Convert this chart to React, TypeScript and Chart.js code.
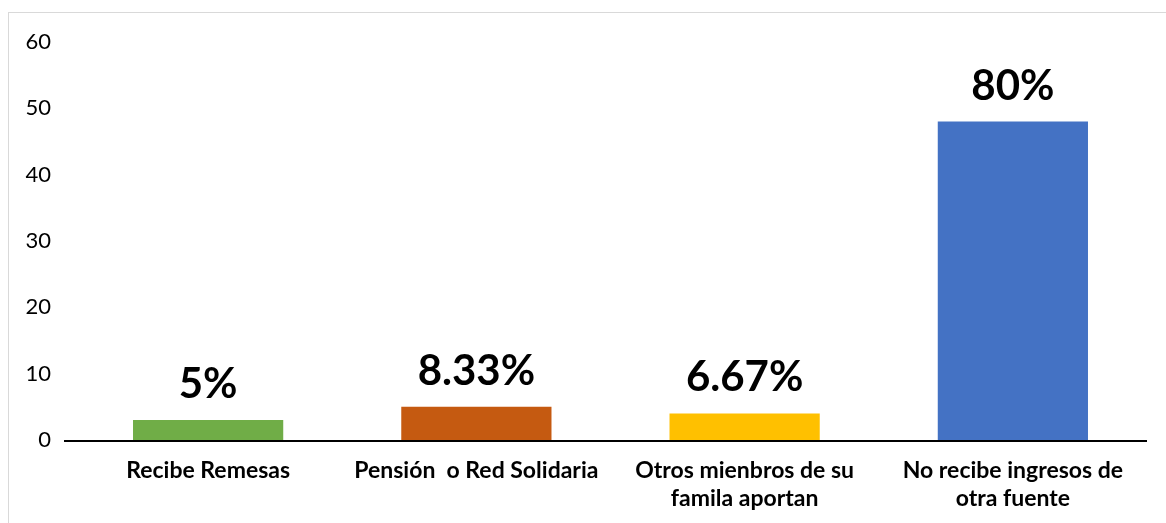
import React, { useEffect, useRef } from "react";
import { Chart, registerables } from "chart.js";

Chart.register(...registerables);

const categories: (string | string[])[] = [
  "Recibe Remesas",
  "Pensión  o Red Solidaria",
  ["Otros mienbros de su", "famila aportan"],
  ["No recibe ingresos de", "otra fuente"],
];
const values = [3, 5, 4, 48];
const valueLabels = ["5%", "8.33%", "6.67%", "80%"];
const barColors = ["#70AD47", "#C55A11", "#FFC000", "#4472C4"];
const yTicks = [0, 10, 20, 30, 40, 50, 60];

const labelPlugin = {
  id: "valueLabels",
  afterDatasetsDraw(chart: any) {
    const ctx = chart.ctx;
    const meta = chart.getDatasetMeta(0);
    const y0 = chart.scales.y.getPixelForValue(0);
    ctx.save();
    ctx.strokeStyle = "#000";
    ctx.lineWidth = 2;
    ctx.beginPath();
    ctx.moveTo(chart.chartArea.left - 10, y0 + 1);
    ctx.lineTo(chart.chartArea.right, y0 + 1);
    ctx.stroke();
    ctx.font = "bold 42px Lato";
    ctx.fillStyle = "#000";
    ctx.textAlign = "center";
    ctx.textBaseline = "alphabetic";
    meta.data.forEach((bar: any, i: number) => {
      ctx.fillText(valueLabels[i], bar.x, bar.y - 22);
    });
    ctx.restore();
  },
};

export default function App() {
  const ref = useRef<HTMLCanvasElement>(null);
  useEffect(() => {
    if (!ref.current) return;
    const chart = new Chart(ref.current, {
      type: "bar",
      data: {
        labels: categories,
        datasets: [
          {
            data: values,
            backgroundColor: barColors,
            barPercentage: 0.56,
            categoryPercentage: 1,
          },
        ],
      },
      options: {
        animation: false,
        responsive: false,
        maintainAspectRatio: false,
        layout: { padding: { left: 0, right: 19, top: 29, bottom: 0 } },
        plugins: { legend: { display: false }, tooltip: { enabled: false } },
        scales: {
          x: {
            grid: { display: false, drawTicks: false },
            border: { display: false },
            ticks: {
              color: "#000",
              font: { family: "Lato", weight: "bold", size: 23, lineHeight: 1.2 },
              padding: 17,
              maxRotation: 0,
              autoSkip: false,
            },
            afterFit: (s: any) => {
              s.height = 83;
            },
          },
          y: {
            min: 0,
            max: 60,
            afterBuildTicks: (s: any) => {
              s.ticks = yTicks.map((v) => ({ value: v }));
            },
            grid: { display: false, drawTicks: false },
            border: { display: false },
            ticks: {
              color: "#000",
              font: { family: "Lato", size: 22 },
              padding: 23,
            },
            afterFit: (s: any) => {
              s.width = 65;
              s.paddingTop = 0;
              s.paddingBottom = 0;
            },
          },
        },
      },
      plugins: [labelPlugin],
    });
    return () => chart.destroy();
  }, []);
  return (
    <div
      style={{
        position: "absolute",
        left: 8,
        top: 12,
        width: 1158,
        height: 512,
        border: "1px solid #d9d9d9",
        background: "#fff",
      }}
    >
      <canvas ref={ref} width={1157} height={510} style={{ display: "block" }} />
    </div>
  );
}
